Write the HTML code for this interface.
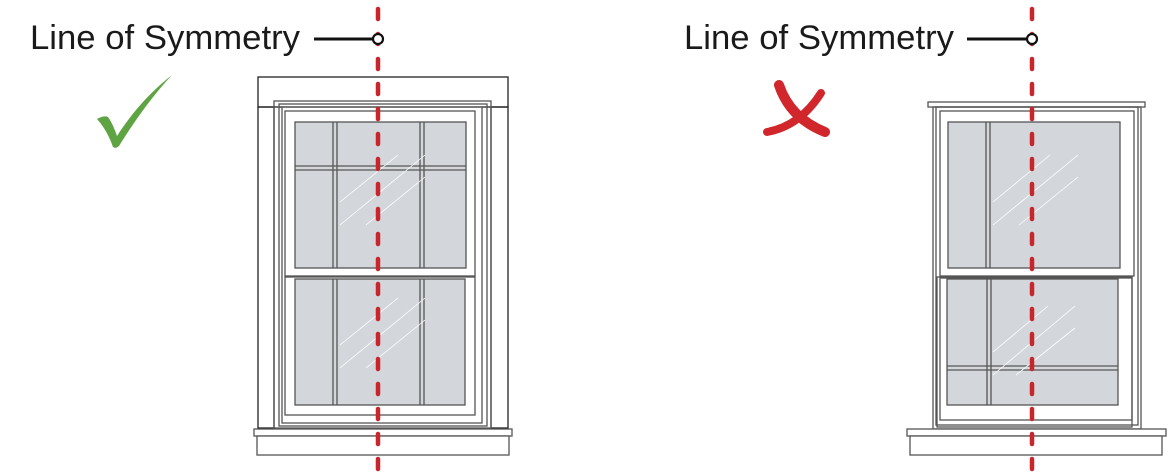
<!DOCTYPE html>
<html><head><meta charset="utf-8"><style>html,body{margin:0;padding:0;background:#fff}svg{display:block}</style></head>
<body>
<svg width="1171" height="475" viewBox="0 0 1171 475" xmlns="http://www.w3.org/2000/svg">
<g font-family="Liberation Sans, sans-serif" font-size="34" fill="#1a1a1a">
<text x="30" y="49" textLength="270" lengthAdjust="spacingAndGlyphs">Line of Symmetry</text>
<text x="684" y="49" textLength="270" lengthAdjust="spacingAndGlyphs">Line of Symmetry</text>
</g>
<!-- LEFT WINDOW -->
<g fill="none" stroke="#555" stroke-width="1.3">
<rect x="258" y="77" width="250" height="30" fill="#fff" stroke="#222"/>
<rect x="258" y="107" width="16" height="321" stroke="#222"/>
<rect x="491" y="107" width="17" height="321" stroke="#222"/>
<rect x="274" y="101" width="217" height="327"/>
<rect x="279" y="104" width="208" height="322"/>
<rect x="282" y="107" width="200" height="316"/>
<rect x="285" y="111" width="190" height="165"/>
<rect x="295" y="122" width="171" height="146" fill="#d3d7db"/>
<rect x="285" y="277" width="190" height="138"/>
<rect x="295" y="279" width="170" height="126" fill="#d3d7db"/>
<line x1="333" y1="122" x2="333" y2="268"/><line x1="337" y1="122" x2="337" y2="268"/>
<line x1="420" y1="122" x2="420" y2="268"/><line x1="424" y1="122" x2="424" y2="268"/>
<line x1="295" y1="166" x2="466" y2="166"/><line x1="295" y1="170" x2="466" y2="170"/>
<line x1="333" y1="279" x2="333" y2="405"/><line x1="337" y1="279" x2="337" y2="405"/>
<line x1="420" y1="279" x2="420" y2="405"/><line x1="424" y1="279" x2="424" y2="405"/>
<rect x="254" y="429" width="258" height="7" fill="#fff"/>
<rect x="257" y="436" width="252" height="19" fill="#fff"/>
</g>
<g stroke="#fff" stroke-width="0.8">
<line x1="340" y1="202" x2="398" y2="155"/><line x1="340" y1="225" x2="425" y2="155"/><line x1="366" y1="225" x2="425" y2="177"/>
<line x1="340" y1="345" x2="398" y2="298"/><line x1="340" y1="368" x2="425" y2="298"/><line x1="366" y1="368" x2="425" y2="320"/>
</g>
<!-- RIGHT WINDOW -->
<g fill="none" stroke="#555" stroke-width="1.3">
<rect x="928" y="102" width="217" height="5"/>
<rect x="933" y="107" width="208" height="322"/>
<rect x="936" y="107" width="202" height="318"/>
<rect x="940" y="111" width="194" height="165"/>
<rect x="948" y="122" width="172" height="146" fill="#d3d7db"/>
<rect x="937" y="277" width="195" height="150"/>
<rect x="940" y="278" width="192" height="142"/>
<rect x="947" y="279" width="171" height="126" fill="#d3d7db"/>
<line x1="986" y1="122" x2="986" y2="268"/><line x1="990" y1="122" x2="990" y2="268"/>
<line x1="987" y1="279" x2="987" y2="405"/><line x1="991" y1="279" x2="991" y2="405"/>
<line x1="947" y1="366" x2="1118" y2="366"/><line x1="947" y1="370" x2="1118" y2="370"/>
<rect x="907" y="429" width="259" height="7" fill="#fff"/>
<rect x="910" y="436" width="252" height="19" fill="#fff"/>
</g>
<g stroke="#fff" stroke-width="0.8">
<line x1="993" y1="202" x2="1050" y2="155"/><line x1="993" y1="225" x2="1078" y2="155"/><line x1="1019" y1="225" x2="1078" y2="177"/>
<line x1="993" y1="352" x2="1048" y2="306"/><line x1="993" y1="375" x2="1075" y2="306"/><line x1="1016" y1="375" x2="1075" y2="328"/>
</g>
<!-- symmetry lines -->
<g stroke="#c8262b" stroke-width="4.5" stroke-linecap="round" stroke-dasharray="10 15">
<line x1="378" y1="-16" x2="378" y2="475"/>
<line x1="1032" y1="-16" x2="1032" y2="475"/>
</g>
<g stroke="#111" stroke-width="3" fill="#fff">
<line x1="314" y1="39" x2="373" y2="39"/>
<circle cx="378" cy="39" r="5" stroke-width="2.2"/>
<line x1="967" y1="39" x2="1027" y2="39"/>
<circle cx="1032" cy="39" r="5" stroke-width="2.2"/>
</g>
<!-- check -->
<path d="M97,119 Q104,115 108,117 Q113,124 117,136 Q140,100 172,75 Q145,104 119,146 Q116,149 113,147 Q107,130 97,119 Z" fill="#5fa443"/>
<!-- cross -->
<g fill="none" stroke="#d1262b" stroke-linecap="round">
<path d="M779,85 Q790,118 825,132" stroke-width="10"/>
<path d="M767,132 Q800,126 821,93" stroke-width="8"/>
</g>
</svg>
</body></html>
